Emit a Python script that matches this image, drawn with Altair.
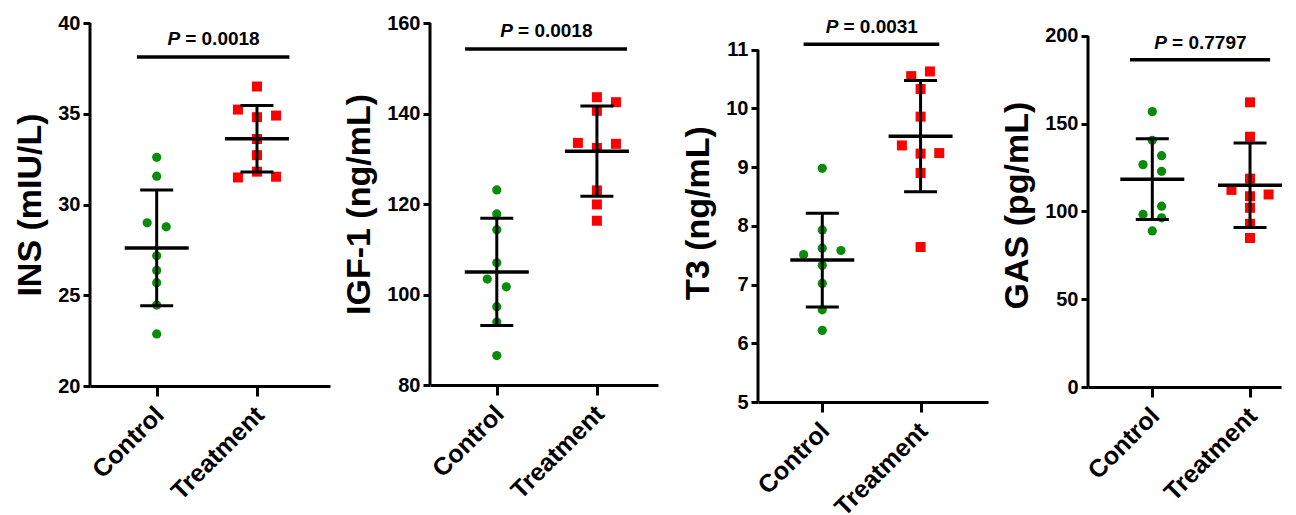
import altair as alt
import pandas as pd

GROUPS = ["Control", "Treatment"]

INS_CONTROL = [32.6, 31.56, 28.99, 28.77, 27.17, 26.37, 25.69, 24.46, 22.87]
INS_CONTROL_JIT = [0, 0, -0.5, 0.5, 0, 0, 0, 0, 0]
INS_TREAT = [36.5, 35.23, 34.81, 34.90, 33.61, 32.72, 31.81, 31.49, 31.53]
INS_TREAT_JIT = [0, -1, 0, 1, 0, 0, 0, -1, 1]

IGF_CONTROL = [123.1, 117.8, 114.3, 107.0, 103.4, 101.7, 97.3, 93.9, 86.5]
IGF_CONTROL_JIT = [0, 0, 0, 0, -0.5, 0.5, 0, 0, 0]
IGF_TREAT = [143.6, 142.5, 140.6, 133.5, 133.3, 132.4, 123.0, 119.9, 116.3]
IGF_TREAT_JIT = [0, 1, 0, -1, 1, 0, 0, 0, 0]

T3_CONTROL = [8.98, 7.93, 7.62, 7.51, 7.58, 7.33, 7.02, 6.57, 6.22]
T3_CONTROL_JIT = [0, 0, 0, -1, 1, 0, 0, 0, 0]
T3_TREAT = [10.63, 10.55, 10.33, 9.86, 9.37, 9.23, 9.24, 8.90, 7.64]
T3_TREAT_JIT = [0.5, -0.5, 0, 0, -1, 0, 1, 0, 0]

GAS_CONTROL = [156.9, 140.6, 131.8, 126.7, 122.9, 103.0, 98.3, 96.4, 88.9]
GAS_CONTROL_JIT = [0, 0, 0.5, -0.5, 0.5, 0.5, -0.5, 0.5, 0]
GAS_TREAT = [162.2, 142.6, 118.7, 112.3, 109.7, 108.7, 102.1, 93.0, 84.9]
GAS_TREAT_JIT = [0, 0, 0, -1, 1, 0, 0, 0, 0]

P_VALUES = ["0.0018", "0.0018", "0.0031", "0.7797"]
Y_TITLES = ["INS (mIU/L)", "IGF-1 (ng/mL)", "T3 (ng/mL)", "GAS (pg/mL)"]
Y_TICKS = [[20, 25, 30, 35, 40], [80, 100, 120, 140, 160],
           [5, 6, 7, 8, 9, 10, 11], [0, 50, 100, 150, 200]]

FONT = "Liberation Sans"
GREEN = "#0a8c0a"
RED = "#ff0000"

panels = [
    dict(ctrl=INS_CONTROL, cj=INS_CONTROL_JIT, trt=INS_TREAT, tj=INS_TREAT_JIT,
         ydom=[20, 40], height=363, width=240, xdom=[0.335, 2.728],
         bx=[0.803, 2.323], by=38.13, ty=38.80),
    dict(ctrl=IGF_CONTROL, cj=IGF_CONTROL_JIT, trt=IGF_TREAT, tj=IGF_TREAT_JIT,
         ydom=[80, 160], height=362, width=228, xdom=[0.333, 2.61],
         bx=[0.683, 2.30], by=154.25, ty=157.0),
    dict(ctrl=T3_CONTROL, cj=T3_CONTROL_JIT, trt=T3_TREAT, tj=T3_TREAT_JIT,
         ydom=[5, 11.455], height=379, width=230, xdom=[0.346, 2.686],
         bx=[0.81, 2.19], by=11.092, ty=11.284),
    dict(ctrl=GAS_CONTROL, cj=GAS_CONTROL_JIT, trt=GAS_TREAT, tj=GAS_TREAT_JIT,
         ydom=[0, 207.4], height=364, width=193, xdom=[0.342, 2.317],
         bx=[0.772, 2.205], by=186.5, ty=192.8),
]


def make_panel(i, cfg):
    n1, n2 = len(cfg["ctrl"]), len(cfg["trt"])
    df = pd.DataFrame({
        "group": [GROUPS[0]] * n1 + [GROUPS[1]] * n2,
        "grp": [1] * n1 + [2] * n2,
        "val": cfg["ctrl"] + cfg["trt"],
        "jit": cfg["cj"] + cfg["tj"],
    })
    ticks = Y_TICKS[i]
    xscale = alt.Scale(domain=cfg["xdom"], nice=False, zero=False)
    yscale = alt.Scale(domain=cfg["ydom"], nice=False, zero=False)
    label_expr = f"datum.value == 1 ? '{GROUPS[0]}' : '{GROUPS[1]}'"
    xaxis = alt.Axis(values=[1, 2], labelExpr=label_expr, labelAngle=-45,
                     labelFont=FONT, labelFontSize=25, labelFontWeight="bold",
                     labelColor="black", tickColor="black", tickWidth=3,
                     tickSize=10, domainColor="black", domainWidth=3,
                     grid=False, title=None, labelPadding=6, labelOffset=-6,
                     labelFlush=False, labelOverlap=False)
    yaxis = alt.Axis(values=ticks, domain=False, tickColor="black", tickWidth=3,
                     tickSize=7, labelFont=FONT, labelFontSize=20,
                     labelFontWeight="bold", labelColor="black", labelPadding=3,
                     grid=False, title=Y_TITLES[i], titleFont=FONT,
                     titleFontSize=34, titleFontWeight="bold", titleColor="black",
                     titlePadding=10, format="d", labelFlush=False)

    def X(field):
        return alt.X(field, type="quantitative", scale=xscale, axis=xaxis)

    def Y(field):
        return alt.Y(field, type="quantitative", scale=yscale, axis=yaxis)

    base = alt.Chart(df)
    points = base.transform_calculate(
        xpos="datum.grp + datum.jit * 0.19"
    ).mark_point(filled=True, opacity=1, strokeWidth=0).encode(
        x=X("xpos"),
        y=Y("val"),
        color=alt.Color("group:N", scale=alt.Scale(domain=GROUPS, range=[GREEN, RED]), legend=None),
        shape=alt.Shape("group:N", scale=alt.Scale(domain=GROUPS, range=["circle", "square"]), legend=None),
        size=alt.Size("group:N", scale=alt.Scale(domain=GROUPS, range=[85, 100]), legend=None),
    )
    stats = base.transform_aggregate(
        m="mean(val)", sd="stdev(val)", groupby=["group", "grp"]
    ).transform_calculate(lo="datum.m - datum.sd", hi="datum.m + datum.sd")
    vline = stats.mark_rule(color="black", strokeWidth=3).encode(x=X("grp"), y=Y("lo"), y2="hi:Q")
    mean_t = stats.mark_tick(orient="horizontal", color="black", size=64, thickness=3.5, opacity=1).encode(x=X("grp"), y=Y("m"))
    lo_t = stats.mark_tick(orient="horizontal", color="black", size=33, thickness=3, opacity=1).encode(x=X("grp"), y=Y("lo"))
    hi_t = stats.mark_tick(orient="horizontal", color="black", size=33, thickness=3, opacity=1).encode(x=X("grp"), y=Y("hi"))

    axis_df = pd.DataFrame({"x": [cfg["xdom"][0]], "y": [min(ticks)], "y2": [max(ticks)]})
    yline = alt.Chart(axis_df).mark_rule(color="black", strokeWidth=3).encode(x=X("x"), y=Y("y"), y2="y2:Q")

    br_df = pd.DataFrame({"x1": [cfg["bx"][0]], "x2": [cfg["bx"][1]], "y": [cfg["by"]],
                          "xm": [(cfg["bx"][0] + cfg["bx"][1]) / 2], "ty": [cfg["ty"]],
                          "p": ["P"], "rest": ["= " + P_VALUES[i]]})
    br = alt.Chart(br_df)
    bracket = br.mark_rule(color="black", strokeWidth=3.5).encode(x=X("x1"), x2="x2:Q", y=Y("y"))
    ptxt = br.mark_text(font=FONT, fontSize=19, fontWeight="bold", fontStyle="italic",
                        align="right", baseline="alphabetic", dx=-33, color="black").encode(
        x=X("xm"), y=Y("ty"), text="p:N")
    rtxt = br.mark_text(font=FONT, fontSize=19, fontWeight="bold",
                        align="left", baseline="alphabetic", dx=-28, color="black").encode(
        x=X("xm"), y=Y("ty"), text="rest:N")

    return alt.layer(yline, points, vline, mean_t, lo_t, hi_t, bracket, ptxt, rtxt).properties(
        width=cfg["width"], height=cfg["height"])


chart = alt.hconcat(*[make_panel(i, c) for i, c in enumerate(panels)], spacing=100,
                    bounds="flush").configure_view(stroke=None).properties(
    background="white", padding={"left": 5, "top": 5, "right": 5, "bottom": 5})

chart.save("out.html", embed_options={"renderer": "svg", "actions": False})
